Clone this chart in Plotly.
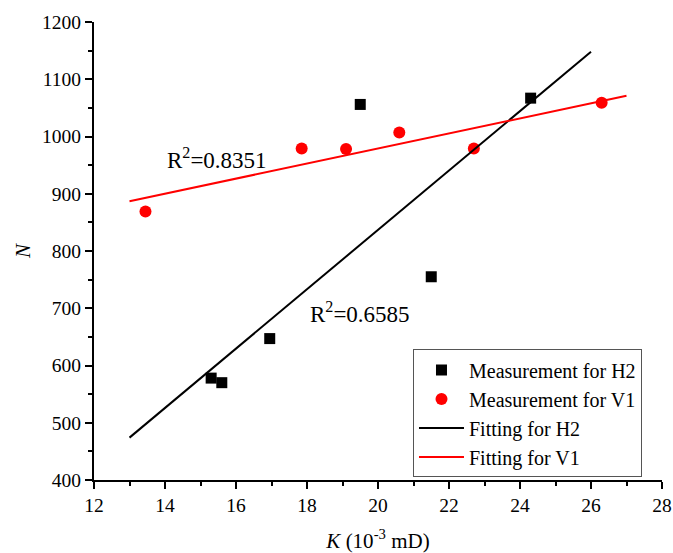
import plotly.graph_objects as go

# Measurement for H2 (black squares)
h2_k = [15.3, 15.6, 16.95, 19.5, 21.5, 24.3]
h2_n = [578, 570, 647, 1056, 755, 1067]
# Measurement for V1 (red circles)
v1_k = [13.45, 17.85, 19.1, 20.6, 22.7, 26.3]
v1_n = [869, 979, 978, 1007, 979, 1059]
# Fitted lines (endpoints)
fit_h2_k = [13.0, 26.0]
fit_h2_n = [474, 1148]
fit_v1_k = [13.0, 27.0]
fit_v1_n = [887, 1071]

x_ticks = [12, 14, 16, 18, 20, 22, 24, 26, 28]
y_ticks = [400, 500, 600, 700, 800, 900, 1000, 1100, 1200]

FONT = "Liberation Serif, Times New Roman, serif"

fig = go.Figure()
fig.add_trace(go.Scatter(x=h2_k, y=h2_n, mode="markers", name="Measurement for H2",
                         marker=dict(symbol="square", size=11, color="black")))
fig.add_trace(go.Scatter(x=v1_k, y=v1_n, mode="markers", name="Measurement for V1",
                         marker=dict(symbol="circle", size=12, color="#ff0000")))
fig.add_trace(go.Scatter(x=fit_h2_k, y=fit_h2_n, mode="lines", name="Fitting for H2",
                         line=dict(color="black", width=2)))
fig.add_trace(go.Scatter(x=fit_v1_k, y=fit_v1_n, mode="lines", name="Fitting for V1",
                         line=dict(color="#ff0000", width=2)))

axis_common = dict(showline=True, linecolor="black", linewidth=2, ticks="outside",
                   ticklen=7, tickwidth=2, tickcolor="black", showgrid=False, zeroline=False,
                   automargin=False,
                   tickfont=dict(family=FONT, size=19.5, color="black"))

fig.update_xaxes(range=[12, 28], tickvals=x_ticks, ticktext=[str(v) for v in x_ticks],
                 minor=dict(dtick=1, ticklen=4, tickwidth=2, tickcolor="black", ticks="outside"),
                 title=dict(text="<i>K</i> (10<sup>-3</sup> mD)", font=dict(family=FONT, size=21, color="black"),
                            standoff=19),
                 **axis_common)
fig.update_yaxes(range=[400, 1200], tickvals=y_ticks, ticktext=[str(v) for v in y_ticks],
                 minor=dict(dtick=50, ticklen=4, tickwidth=2, tickcolor="black", ticks="outside"),
                 title=dict(text="<i>N</i>", font=dict(family=FONT, size=21, color="black"), standoff=6),
                 **axis_common)

fig.add_annotation(x=15.46, y=962, text="R<sup>2</sup>=0.8351", showarrow=False,
                   font=dict(family=FONT, size=23, color="black"))
fig.add_annotation(x=19.5, y=693, text="R<sup>2</sup>=0.6585", showarrow=False,
                   font=dict(family=FONT, size=23, color="black"))

fig.update_layout(
    width=673, height=553,
    margin=dict(l=94, r=11, t=22, b=73),
    plot_bgcolor="white", paper_bgcolor="white",
    font=dict(family=FONT, size=19.5, color="black"),
    legend=dict(x=0.5616, y=0.285, xanchor="left", yanchor="top",
                bordercolor="#555555", borderwidth=1, bgcolor="white",
                font=dict(family=FONT, size=20, color="black"),
                tracegroupgap=0, itemwidth=45),
    showlegend=True,
)

fig.write_html("out.html")
